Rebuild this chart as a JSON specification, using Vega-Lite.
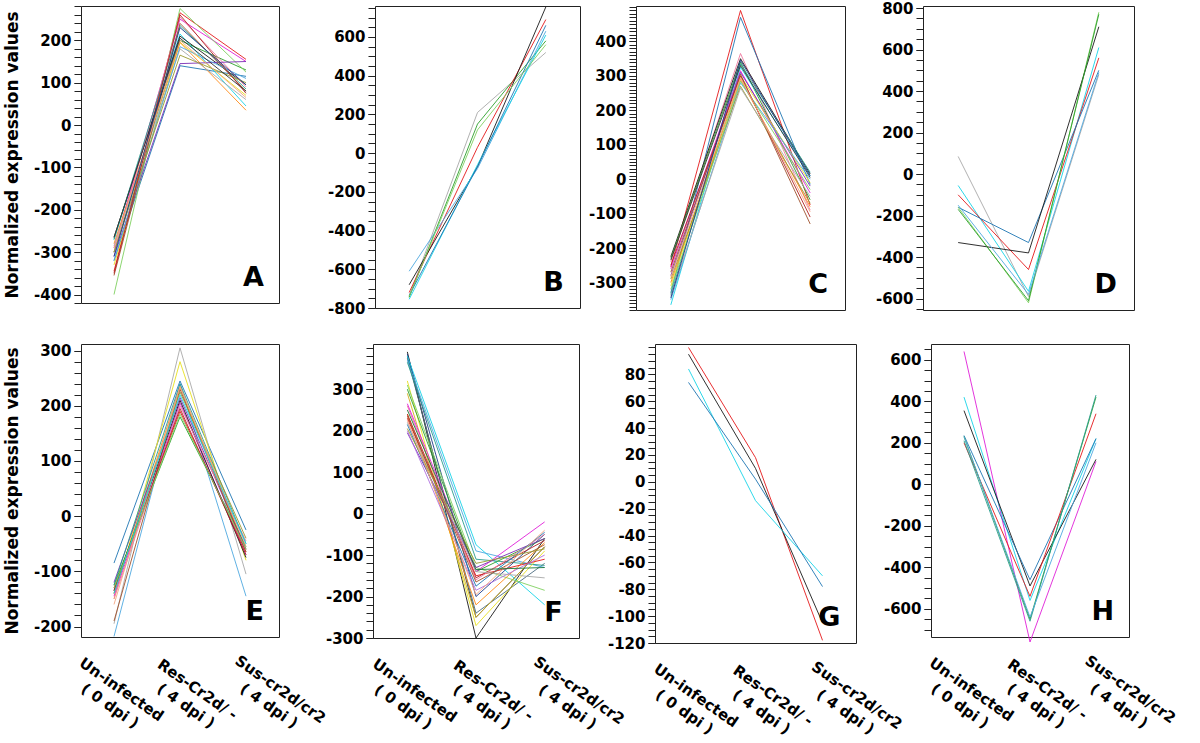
{
  "$schema": "https://vega.github.io/schema/vega-lite/v6.json",
  "padding": {"left": 2, "top": 0, "right": 5, "bottom": 0},
  "background": "white",
  "config": {
    "view": {"stroke": "#222", "strokeWidth": 1},
    "axis": {"labelFont": "DejaVu Sans", "labelFontWeight": "bold", "labelFontSize": 15, "labelColor": "#000",
      "titleFont": "DejaVu Sans", "titleFontWeight": "bold", "titleFontSize": 17, "titleColor": "#000",
      "tickColor": "#222", "tickSize": 7, "labelPadding": 3, "domain": false, "grid": false, "labelFlush": false},
    "line": {"strokeWidth": 1, "clip": true, "opacity": 0.9},
    "text": {"font": "DejaVu Sans", "fontWeight": "bold", "fontSize": 27, "align": "right", "baseline": "alphabetic", "dx": 18, "dy": -17, "color": "#000"}
  },
  "datasets": {
    "d": [
      {"p":"A","g":1,"a":-345,"b":265,"c":155},
      {"p":"A","g":2,"a":-300,"b":200,"c":130},
      {"p":"A","g":3,"a":-320,"b":140,"c":115},
      {"p":"A","g":4,"a":-270,"b":215,"c":45},
      {"p":"A","g":5,"a":-290,"b":250,"c":150},
      {"p":"A","g":6,"a":-265,"b":210,"c":95},
      {"p":"A","g":7,"a":-330,"b":195,"c":70},
      {"p":"A","g":8,"a":-280,"b":195,"c":35},
      {"p":"A","g":9,"a":-400,"b":275,"c":125},
      {"p":"A","g":10,"a":-300,"b":255,"c":90},
      {"p":"A","g":11,"a":-310,"b":145,"c":150},
      {"p":"A","g":12,"a":-285,"b":180,"c":60},
      {"p":"A","g":13,"a":-270,"b":235,"c":85},
      {"p":"A","g":14,"a":-355,"b":240,"c":80},
      {"p":"A","g":15,"a":-320,"b":185,"c":110},
      {"p":"A","g":16,"a":-300,"b":165,"c":100},
      {"p":"A","g":17,"a":-350,"b":260,"c":75},
      {"p":"A","g":18,"a":-290,"b":200,"c":65},
      {"p":"A","g":19,"a":-265,"b":205,"c":80},
      {"p":"A","g":20,"a":-310,"b":230,"c":95},

      {"p":"B","g":12,"a":-740,"b":210,"c":520},
      {"p":"B","g":2,"a":-745,"b":150,"c":580},
      {"p":"B","g":1,"a":-720,"b":30,"c":690},
      {"p":"B","g":6,"a":-680,"b":-70,"c":755},
      {"p":"B","g":15,"a":-610,"b":-80,"c":630},
      {"p":"B","g":4,"a":-755,"b":-60,"c":610},
      {"p":"B","g":3,"a":-735,"b":-70,"c":660},
      {"p":"B","g":9,"a":-740,"b":120,"c":560},

      {"p":"C","g":1,"a":-255,"b":490,"c":-75},
      {"p":"C","g":3,"a":-330,"b":470,"c":-15},
      {"p":"C","g":10,"a":-240,"b":365,"c":-90},
      {"p":"C","g":6,"a":-225,"b":350,"c":15},
      {"p":"C","g":2,"a":-230,"b":340,"c":-60},
      {"p":"C","g":13,"a":-335,"b":335,"c":20},
      {"p":"C","g":4,"a":-365,"b":325,"c":10},
      {"p":"C","g":5,"a":-260,"b":315,"c":-40},
      {"p":"C","g":11,"a":-280,"b":310,"c":-20},
      {"p":"C","g":7,"a":-310,"b":300,"c":-10},
      {"p":"C","g":8,"a":-300,"b":290,"c":-80},
      {"p":"C","g":14,"a":-270,"b":305,"c":-130},
      {"p":"C","g":15,"a":-350,"b":280,"c":0},
      {"p":"C","g":16,"a":-290,"b":270,"c":-70},
      {"p":"C","g":9,"a":-320,"b":285,"c":-30},
      {"p":"C","g":17,"a":-250,"b":300,"c":-110},
      {"p":"C","g":12,"a":-340,"b":265,"c":-50},
      {"p":"C","g":18,"a":-285,"b":295,"c":-95},
      {"p":"C","g":19,"a":-235,"b":330,"c":5},
      {"p":"C","g":20,"a":-345,"b":345,"c":10},

      {"p":"D","g":12,"a":85,"b":-590,"c":480},
      {"p":"D","g":4,"a":-55,"b":-565,"c":610},
      {"p":"D","g":1,"a":-100,"b":-460,"c":560},
      {"p":"D","g":3,"a":-160,"b":-330,"c":500},
      {"p":"D","g":9,"a":-160,"b":-620,"c":780},
      {"p":"D","g":6,"a":-330,"b":-380,"c":710},
      {"p":"D","g":2,"a":-170,"b":-610,"c":770},
      {"p":"D","g":15,"a":-150,"b":-580,"c":490},

      {"p":"E","g":3,"a":-85,"b":245,"c":-25},
      {"p":"E","g":15,"a":-218,"b":240,"c":-145},
      {"p":"E","g":12,"a":-195,"b":305,"c":-105},
      {"p":"E","g":7,"a":-150,"b":280,"c":-80},
      {"p":"E","g":8,"a":-140,"b":235,"c":-60},
      {"p":"E","g":1,"a":-130,"b":190,"c":-65},
      {"p":"E","g":2,"a":-125,"b":180,"c":-55},
      {"p":"E","g":5,"a":-145,"b":205,"c":-70},
      {"p":"E","g":6,"a":-135,"b":210,"c":-75},
      {"p":"E","g":11,"a":-120,"b":215,"c":-60},
      {"p":"E","g":10,"a":-150,"b":200,"c":-45},
      {"p":"E","g":13,"a":-125,"b":240,"c":-50},
      {"p":"E","g":14,"a":-190,"b":230,"c":-65},
      {"p":"E","g":16,"a":-140,"b":225,"c":-40},
      {"p":"E","g":17,"a":-135,"b":195,"c":-70},
      {"p":"E","g":18,"a":-160,"b":235,"c":-55},
      {"p":"E","g":9,"a":-130,"b":185,"c":-60},
      {"p":"E","g":4,"a":-140,"b":220,"c":-50},

      {"p":"F","g":6,"a":390,"b":-300,"c":-60},
      {"p":"F","g":19,"a":380,"b":-250,"c":-80},
      {"p":"F","g":24,"a":375,"b":-240,"c":-120},
      {"p":"F","g":20,"a":385,"b":-200,"c":-50},
      {"p":"F","g":4,"a":380,"b":-75,"c":-220},
      {"p":"F","g":15,"a":370,"b":-90,"c":-130},
      {"p":"F","g":13,"a":365,"b":-110,"c":-125},
      {"p":"F","g":7,"a":320,"b":-270,"c":-90},
      {"p":"F","g":9,"a":310,"b":-130,"c":-185},
      {"p":"F","g":2,"a":300,"b":-140,"c":-60},
      {"p":"F","g":22,"a":290,"b":-250,"c":-80},
      {"p":"F","g":8,"a":240,"b":-220,"c":-70},
      {"p":"F","g":1,"a":230,"b":-150,"c":-110},
      {"p":"F","g":17,"a":240,"b":-155,"c":-65},
      {"p":"F","g":10,"a":260,"b":-160,"c":-50},
      {"p":"F","g":5,"a":265,"b":-140,"c":-20},
      {"p":"F","g":11,"a":195,"b":-130,"c":-60},
      {"p":"F","g":23,"a":200,"b":-185,"c":-100},
      {"p":"F","g":3,"a":215,"b":-175,"c":-45},
      {"p":"F","g":12,"a":220,"b":-140,"c":-155},
      {"p":"F","g":14,"a":235,"b":-165,"c":-75},
      {"p":"F","g":16,"a":205,"b":-120,"c":-85},
      {"p":"F","g":18,"a":225,"b":-195,"c":-40},
      {"p":"F","g":21,"a":250,"b":-135,"c":-130},

      {"p":"G","g":1,"a":100,"b":18,"c":-118},
      {"p":"G","g":6,"a":95,"b":10,"c":-105},
      {"p":"G","g":4,"a":84,"b":-14,"c":-70},
      {"p":"G","g":3,"a":74,"b":2,"c":-78},

      {"p":"H","g":5,"a":640,"b":-760,"c":110},
      {"p":"H","g":4,"a":420,"b":-560,"c":220},
      {"p":"H","g":6,"a":355,"b":-490,"c":120},
      {"p":"H","g":3,"a":235,"b":-460,"c":220},
      {"p":"H","g":1,"a":200,"b":-540,"c":340},
      {"p":"H","g":2,"a":230,"b":-650,"c":420},
      {"p":"H","g":13,"a":210,"b":-660,"c":430},
      {"p":"H","g":15,"a":230,"b":-640,"c":200}
    ]
  },
  "data": {"name": "d"},
  "vconcat": [
    {
      "spacing": 0,
      "hconcat": [
        {
          "width": 198, "height": 297,
          "resolve": {"axis": {"y": "independent"}},
          "layer": [
            {"transform": [{"filter": "datum.p === 'A'"}, {"fold": ["a","b","c"], "as": ["k","v"]}],
             "mark": "line",
             "encoding": {
               "x": {"field": "k", "type": "nominal", "scale": {"type": "point", "domain": ["a","b","c"], "padding": 0.5}, "axis": null},
               "y": {"field": "v", "type": "quantitative", "scale": {"domain": [-420, 281], "nice": false, "zero": false},
                     "axis": {"orient": "left", "title": "Normalized expression values", "titlePadding": 12, "values": [-400,-300,-200,-100,0,100,200], "labelExpr": "'' + datum.value"}},
               "color": {"field": "g", "type": "nominal", "legend": null,
                         "scale": {"domain": [1,2,3,4,5,6,7,8,9,10,11,12,13,14,15,16,17,18,19,20,21,22,23,24],
                                   "range": ["#e41a1c","#2ca02c","#1f77b4","#17d4e8","#e020d8","#1a1a1a","#e8e020","#ff8c1a","#80d060","#f07aa0","#7b2fb5","#a8a8a8","#2a9d8f","#a0522d","#4fa8e0","#9a9a30","#b22222","#f4a582","#333333","#1f3c88","#1b7837","#d4b020","#b070e0","#4a6a80"]}}
             }},
            {"data": {"values": [{"t": "A"}]}, "mark": "text",
             "encoding": {"text": {"field": "t"}, "x": {"datum": "c"},
               "y": {"datum": -420, "type": "quantitative", "axis": {"orient": "left", "title": null, "labels": false, "values": [-420,-400,-380,-360,-340,-320,-300,-280,-260,-240,-220,-200,-180,-160,-140,-120,-100,-80,-60,-40,-20,0,20,40,60,80,100,120,140,160,180,200,220,240,260,280]}}}}
          ]
        },
        {
          "width": 205, "height": 302,
          "resolve": {"axis": {"y": "independent"}},
          "layer": [
            {"transform": [{"filter": "datum.p === 'B'"}, {"fold": ["a","b","c"], "as": ["k","v"]}],
             "mark": "line",
             "encoding": {
               "x": {"field": "k", "type": "nominal", "scale": {"type": "point", "domain": ["a","b","c"], "padding": 0.5}, "axis": null},
               "y": {"field": "v", "type": "quantitative", "scale": {"domain": [-800, 760], "nice": false, "zero": false},
                     "axis": {"orient": "left", "title": null, "minExtent": 94, "maxExtent": 94, "values": [-800,-600,-400,-200,0,200,400,600], "labelExpr": "'' + datum.value"}},
               "color": {"field": "g", "type": "nominal", "legend": null}
             }},
            {"data": {"values": [{"t": "B"}]}, "mark": "text",
             "encoding": {"text": {"field": "t"}, "x": {"datum": "c"},
               "y": {"datum": -800, "type": "quantitative", "axis": {"orient": "left", "title": null, "labels": false, "values": [-800,-750,-700,-650,-600,-550,-500,-450,-400,-350,-300,-250,-200,-150,-100,-50,0,50,100,150,200,250,300,350,400,450,500,550,600,650,700,750]}}}}
          ]
        },
        {
          "width": 209, "height": 304,
          "resolve": {"axis": {"y": "independent"}},
          "layer": [
            {"transform": [{"filter": "datum.p === 'C'"}, {"fold": ["a","b","c"], "as": ["k","v"]}],
             "mark": "line",
             "encoding": {
               "x": {"field": "k", "type": "nominal", "scale": {"type": "point", "domain": ["a","b","c"], "padding": 0.5}, "axis": null},
               "y": {"field": "v", "type": "quantitative", "scale": {"domain": [-380, 503], "nice": false, "zero": false},
                     "axis": {"orient": "left", "title": null, "minExtent": 54, "maxExtent": 54, "values": [-300,-200,-100,0,100,200,300,400], "labelExpr": "'' + datum.value"}},
               "color": {"field": "g", "type": "nominal", "legend": null}
             }},
            {"data": {"values": [{"t": "C"}]}, "mark": "text",
             "encoding": {"text": {"field": "t"}, "x": {"datum": "c"},
               "y": {"datum": -380, "type": "quantitative", "axis": {"orient": "left", "title": null, "labels": false, "values": [-380,-370,-360,-350,-340,-330,-320,-310,-300,-290,-280,-270,-260,-250,-240,-230,-220,-210,-200,-190,-180,-170,-160,-150,-140,-130,-120,-110,-100,-90,-80,-70,-60,-50,-40,-30,-20,-10,0,10,20,30,40,50,60,70,80,90,100,110,120,130,140,150,160,170,180,190,200,210,220,230,240,250,260,270,280,290,300,310,320,330,340,350,360,370,380,390,400,410,420,430,440,450,460,470,480,490,500]}}}}
          ]
        },
        {
          "width": 211, "height": 304,
          "resolve": {"axis": {"y": "independent"}},
          "layer": [
            {"transform": [{"filter": "datum.p === 'D'"}, {"fold": ["a","b","c"], "as": ["k","v"]}],
             "mark": "line",
             "encoding": {
               "x": {"field": "k", "type": "nominal", "scale": {"type": "point", "domain": ["a","b","c"], "padding": 0.5}, "axis": null},
               "y": {"field": "v", "type": "quantitative", "scale": {"domain": [-655, 810], "nice": false, "zero": false},
                     "axis": {"orient": "left", "title": null, "minExtent": 76, "maxExtent": 76, "values": [-600,-400,-200,0,200,400,600,800], "labelExpr": "'' + datum.value"}},
               "color": {"field": "g", "type": "nominal", "legend": null}
             }},
            {"data": {"values": [{"t": "D"}]}, "mark": "text",
             "encoding": {"text": {"field": "t"}, "x": {"datum": "c"},
               "y": {"datum": -655, "type": "quantitative", "axis": {"orient": "left", "title": null, "labels": false, "values": [-650,-600,-550,-500,-450,-400,-350,-300,-250,-200,-150,-100,-50,0,50,100,150,200,250,300,350,400,450,500,550,600,650,700,750,800]}}}}
          ]
        }
      ]
    },
    {
      "spacing": -58,
      "hconcat": [
        {
          "width": 198, "height": 293,
          "resolve": {"axis": {"y": "independent"}},
          "layer": [
            {"transform": [{"filter": "datum.p === 'E'"}, {"fold": ["a","b","c"], "as": ["k","v"]}],
             "mark": "line",
             "encoding": {
               "x": {"field": "k", "type": "nominal", "scale": {"type": "point", "domain": ["a","b","c"], "padding": 0.5},
                     "axis": {"title": null, "ticks": false, "tickSize": 0, "labelAngle": 35, "labelAlign": "center", "labelBaseline": "middle", "labelPadding": 52, "labelLineHeight": 20,
                              "labelOffset": {"condition": [{"test": "datum.value === 'a'", "value": 7}, {"test": "datum.value === 'b'", "value": 17}], "value": 34},
                              "labelExpr": "datum.value === 'a' ? ['Un-infected', '( 0 dpi )'] : datum.value === 'b' ? ['Res-Cr2d/ -', '( 4 dpi )'] : ['Sus-cr2d/cr2', '( 4 dpi )']"}},
               "y": {"field": "v", "type": "quantitative", "scale": {"domain": [-219, 312], "nice": false, "zero": false},
                     "axis": {"orient": "left", "title": "Normalized expression values", "titlePadding": 12, "values": [-200,-100,0,100,200,300], "labelExpr": "'' + datum.value"}},
               "color": {"field": "g", "type": "nominal", "legend": null}
             }},
            {"data": {"values": [{"t": "E"}]}, "mark": "text",
             "encoding": {"text": {"field": "t"}, "x": {"datum": "c"},
               "y": {"datum": -219, "type": "quantitative", "axis": {"orient": "left", "title": null, "labels": false, "values": [-200,-180,-160,-140,-120,-100,-80,-60,-40,-20,0,20,40,60,80,100,120,140,160,180,200,220,240,260,280,300]}}}}
          ]
        },
        {
          "width": 206, "height": 294,
          "resolve": {"axis": {"y": "independent"}},
          "layer": [
            {"transform": [{"filter": "datum.p === 'F'"}, {"fold": ["a","b","c"], "as": ["k","v"]}],
             "mark": "line",
             "encoding": {
               "x": {"field": "k", "type": "nominal", "scale": {"type": "point", "domain": ["a","b","c"], "padding": 0.5},
                     "axis": {"title": null, "ticks": false, "tickSize": 0, "labelAngle": 35, "labelAlign": "center", "labelBaseline": "middle", "labelPadding": 52, "labelLineHeight": 20,
                              "labelOffset": {"condition": [{"test": "datum.value === 'a'", "value": 7}, {"test": "datum.value === 'b'", "value": 17}], "value": 34},
                              "labelExpr": "datum.value === 'a' ? ['Un-infected', '( 0 dpi )'] : datum.value === 'b' ? ['Res-Cr2d/ -', '( 4 dpi )'] : ['Sus-cr2d/cr2', '( 4 dpi )']"}},
               "y": {"field": "v", "type": "quantitative", "scale": {"domain": [-300, 409], "nice": false, "zero": false},
                     "axis": {"orient": "left", "title": null, "minExtent": 101, "maxExtent": 101, "values": [-300,-200,-100,0,100,200,300], "labelExpr": "'' + datum.value"}},
               "color": {"field": "g", "type": "nominal", "legend": null}
             }},
            {"data": {"values": [{"t": "F"}]}, "mark": "text",
             "encoding": {"text": {"field": "t"}, "x": {"datum": "c"},
               "y": {"datum": -300, "type": "quantitative", "axis": {"orient": "left", "title": null, "labels": false, "values": [-300,-280,-260,-240,-220,-200,-180,-160,-140,-120,-100,-80,-60,-40,-20,0,20,40,60,80,100,120,140,160,180,200,220,240,260,280,300,320,340,360,380,400]}}}}
          ]
        },
        {
          "width": 201, "height": 299,
          "resolve": {"axis": {"y": "independent"}},
          "layer": [
            {"transform": [{"filter": "datum.p === 'G'"}, {"fold": ["a","b","c"], "as": ["k","v"]}],
             "mark": "line",
             "encoding": {
               "x": {"field": "k", "type": "nominal", "scale": {"type": "point", "domain": ["a","b","c"], "padding": 0.5},
                     "axis": {"title": null, "ticks": false, "tickSize": 0, "labelAngle": 35, "labelAlign": "center", "labelBaseline": "middle", "labelPadding": 52, "labelLineHeight": 20,
                              "labelOffset": {"condition": [{"test": "datum.value === 'a'", "value": 7}, {"test": "datum.value === 'b'", "value": 17}], "value": 34},
                              "labelExpr": "datum.value === 'a' ? ['Un-infected', '( 0 dpi )'] : datum.value === 'b' ? ['Res-Cr2d/ -', '( 4 dpi )'] : ['Sus-cr2d/cr2', '( 4 dpi )']"}},
               "y": {"field": "v", "type": "quantitative", "scale": {"domain": [-120, 102.6], "nice": false, "zero": false},
                     "axis": {"orient": "left", "title": null, "minExtent": 85, "maxExtent": 85, "values": [-120,-100,-80,-60,-40,-20,0,20,40,60,80], "labelExpr": "'' + datum.value"}},
               "color": {"field": "g", "type": "nominal", "legend": null}
             }},
            {"data": {"values": [{"t": "G"}]}, "mark": "text",
             "encoding": {"text": {"field": "t"}, "x": {"datum": "c"},
               "y": {"datum": -120, "type": "quantitative", "axis": {"orient": "left", "title": null, "labels": false, "values": [-120,-115,-110,-105,-100,-95,-90,-85,-80,-75,-70,-65,-60,-55,-50,-45,-40,-35,-30,-25,-20,-15,-10,-5,0,5,10,15,20,25,30,35,40,45,50,55,60,65,70,75,80,85,90,95,100]}}}}
          ]
        },
        {
          "width": 198, "height": 293,
          "resolve": {"axis": {"y": "independent"}},
          "layer": [
            {"transform": [{"filter": "datum.p === 'H'"}, {"fold": ["a","b","c"], "as": ["k","v"]}],
             "mark": "line",
             "encoding": {
               "x": {"field": "k", "type": "nominal", "scale": {"type": "point", "domain": ["a","b","c"], "padding": 0.5},
                     "axis": {"title": null, "ticks": false, "tickSize": 0, "labelAngle": 35, "labelAlign": "center", "labelBaseline": "middle", "labelPadding": 52, "labelLineHeight": 20,
                              "labelOffset": {"condition": [{"test": "datum.value === 'a'", "value": 7}, {"test": "datum.value === 'b'", "value": 17}], "value": 34},
                              "labelExpr": "datum.value === 'a' ? ['Un-infected', '( 0 dpi )'] : datum.value === 'b' ? ['Res-Cr2d/ -', '( 4 dpi )'] : ['Sus-cr2d/cr2', '( 4 dpi )']"}},
               "y": {"field": "v", "type": "quantitative", "scale": {"domain": [-736, 676], "nice": false, "zero": false},
                     "axis": {"orient": "left", "title": null, "minExtent": 83, "maxExtent": 83, "values": [-600,-400,-200,0,200,400,600], "labelExpr": "'' + datum.value"}},
               "color": {"field": "g", "type": "nominal", "legend": null}
             }},
            {"data": {"values": [{"t": "H"}]}, "mark": "text",
             "encoding": {"text": {"field": "t"}, "x": {"datum": "c"},
               "y": {"datum": -736, "type": "quantitative", "axis": {"orient": "left", "title": null, "labels": false, "values": [-700,-650,-600,-550,-500,-450,-400,-350,-300,-250,-200,-150,-100,-50,0,50,100,150,200,250,300,350,400,450,500,550,600,650]}}}}
          ]
        }
      ]
    }
  ],
  "spacing": 26
}
